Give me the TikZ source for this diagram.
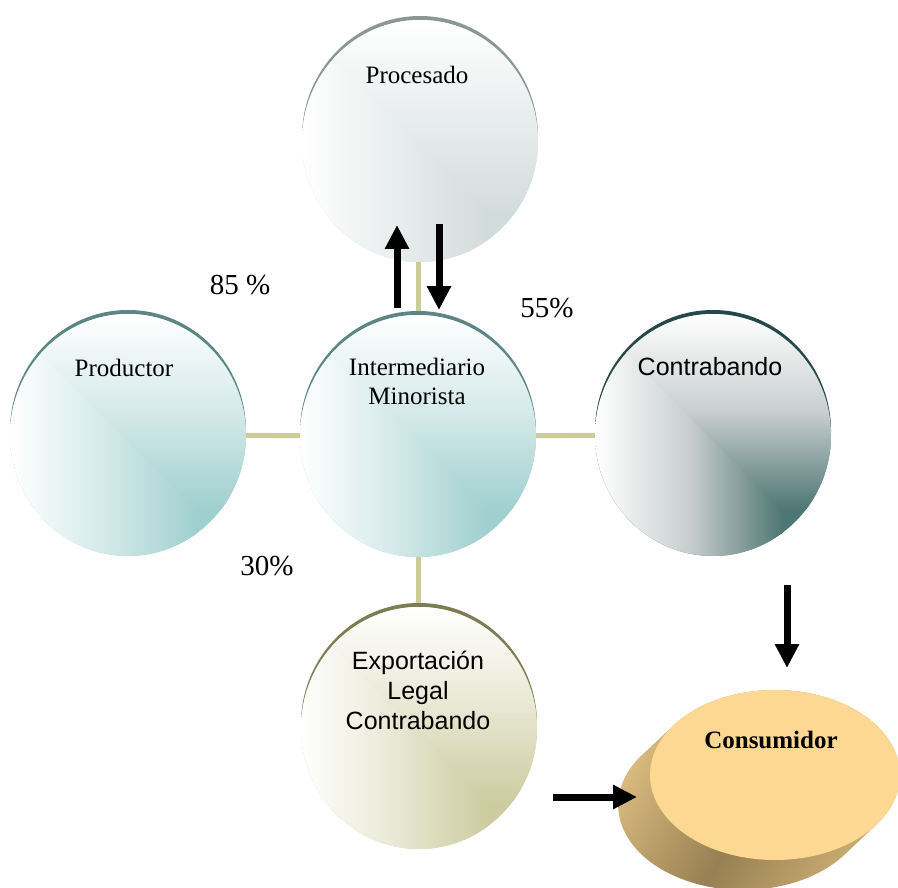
\documentclass[tikz,border=0pt]{standalone}
\usepackage{fontspec}
\setmainfont{Liberation Serif}
\newfontfamily\sansf{Liberation Sans}
\usetikzlibrary{arrows.meta,shapes.geometric}

\definecolor{link}{RGB}{204,204,153}
\definecolor{tealdeep}{RGB}{160,207,207}
\definecolor{tealrim}{RGB}{92,133,133}
\definecolor{greydeep}{RGB}{210,219,219}
\definecolor{greyrim}{RGB}{140,150,150}
\definecolor{darkdeep}{RGB}{78,118,116}
\definecolor{darkmid}{RGB}{200,206,206}
\definecolor{darkrim}{RGB}{38,72,72}
\definecolor{khakideep}{RGB}{204,204,160}
\definecolor{khakirim}{RGB}{125,125,85}
\definecolor{consTop}{RGB}{253,216,146}
\definecolor{sideA}{RGB}{226,194,132}
\definecolor{sideB}{RGB}{152,128,84}
\definecolor{sideC}{RGB}{212,182,120}

% shaded bubble: centre x, centre y, middle colour, deep colour, rim colour
\newcommand{\bubble}[5]{%
  \fill[#5] (#1,{#2-4}) ellipse [x radius=118, y radius=121];
  \begin{scope}
    \clip (#1,#2) ellipse [x radius=118, y radius=121];
    \fill[#4] ({#1-130},{#2-130}) rectangle ({#1+130},{#2+130});
    \shade[left color=white, right color=#4, middle color=#3]
      ({#1-118},{#2-200}) rectangle ({#1+70},{#2+200});
    \begin{scope}
      \clip ({#1+70},{#2+75}) -- ++(-300,-300) -- ++(600,0) -- ++(0,300) -- cycle;
      \shade[top color=white, bottom color=#4, middle color=#3]
        ({#1-200},{#2-121}) rectangle ({#1+200},{#2+75});
    \end{scope}
  \end{scope}}

\tikzset{
  bub/.style={ellipse, minimum width=236pt, minimum height=242pt, inner sep=0pt},
  conn/.style={draw=link, line width=5pt},
  blk/.style={line width=7pt, -{Triangle[width=23pt,length=24pt]}},
  lbl/.style={font=\fontsize{25}{29}\selectfont, align=center, inner sep=0pt},
  slbl/.style={font=\sansf\fontsize{25}{30}\selectfont, align=center, inner sep=0pt},
  pct/.style={font=\fontsize{29}{34}\selectfont, inner sep=0pt}
}

\begin{document}
\begin{tikzpicture}[x=1pt, y=-1pt]
  \useasboundingbox (0,0) rectangle (898,888);
  \clip (0,0) rectangle (898,888);

  % node outlines used as connector anchors
  \node[bub] (prod) at (128,435) {};
  \node[bub] (inter) at (418,436) {};
  \node[bub] (contra) at (713,435) {};
  \node[bub] (proc) at (420,141) {};
  \node[bub] (expo) at (419,728) {};
  \node[ellipse, minimum width=250pt, minimum height=170pt, inner sep=0pt] (cons) at (775,775) {};

  % connectors
  \draw[conn] (prod) -- (inter);
  \draw[conn] (inter) -- (contra);
  \draw[conn] (inter.north) -- (inter.north |- proc.south);
  \draw[conn] (inter.south) -- (inter.south |- expo.north);

  % bubbles
  \bubble{128}{435}{tealdeep!45!white}{tealdeep}{tealrim}
  \bubble{418}{436}{tealdeep!45!white}{tealdeep}{tealrim}
  \bubble{713}{435}{darkmid}{darkdeep}{darkrim}
  \bubble{420}{141}{greydeep!50!white}{greydeep}{greyrim}
  \bubble{419}{728}{khakideep!45!white}{khakideep}{khakirim}

  % consumer disc: extruded side, then top face
  \shade[left color=sideA, right color=sideC, middle color=sideB, shading angle=60]
    (674,725) -- (642,755)
    arc[start angle=216, end angle=36, x radius=125, y radius=85]
    -- (876,825)
    arc[start angle=36, end angle=-144, x radius=125, y radius=85] -- cycle;
  \fill[consTop] (cons.center) ellipse [x radius=125, y radius=85];

  % labels
  \node[lbl] (tproc) at (417,75) {Procesado};
  \node[lbl] (tprod) at (124,368) {Productor};
  \node[lbl] (tinter) at (417,381) {Intermediario\\Minorista};
  \node[slbl] (tcontra) at (710,367) {Contrabando};
  \node[slbl] (texpo) at (418,690) {Exportación\\Legal\\Contrabando};
  \node[lbl, font=\bfseries\fontsize{25}{29}\selectfont] (tcons) at (771,740) {Consumidor};

  \node[pct] (p85) at (240,285) {85 \%};
  \node[pct] (p55) at (547,308) {55\%};
  \node[pct] (p30) at (267,566) {30\%};

  % flow arrows
  \coordinate (upS) at (397,308);  \coordinate (upE) at (397,225);
  \coordinate (dnS) at (439,224);  \coordinate (dnE) at (439,310);
  \coordinate (cdS) at (787,585);  \coordinate (cdE) at (787,668);
  \coordinate (exS) at (553,797);  \coordinate (exE) at (637,797);
  \draw[blk] (upS) -- (upE);
  \draw[blk] (dnS) -- (dnE);
  \draw[blk] (cdS) -- (cdE);
  \draw[blk] (exS) -- (exE);
\end{tikzpicture}
\end{document}
